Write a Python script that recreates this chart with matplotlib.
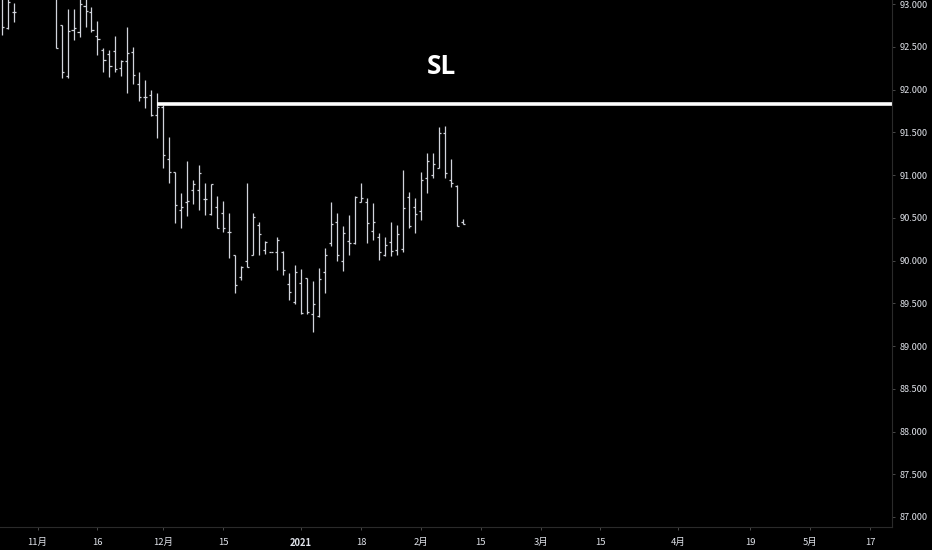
import numpy as np
import pandas as pd
import matplotlib
matplotlib.use('Agg')
import matplotlib.pyplot as plt

plt.rcParams['font.family'] = ['Noto Sans CJK SC', 'DejaVu Sans']

# trading calendar used for the time axis (one slot per weekday, no bar on Jan 1)
days = pd.bdate_range('2020-10-23', '2021-05-21')
days = days[days != pd.Timestamp('2021-01-01')]

# daily OHLC, first bar 2020-10-23
# (bars 3..8 lie completely above the visible price range)
opens = [93.10, 92.72, 92.91, np.nan, np.nan, np.nan, np.nan, np.nan, np.nan,
         93.10, 92.75, 92.16, 92.70, 92.67, 92.98, 92.91, 92.63, 92.46, 92.42,
         92.45, 92.25, 92.33, 92.44, 92.07, 91.91, 91.94, 91.70, 91.79, 91.19,
         91.04, 90.59, 90.68, 90.82, 90.83, 90.72, 90.54, 90.62, 90.55, 90.33,
         90.06, 89.81, 89.99, 90.06, 90.41, 90.12, 90.10, 90.10, 90.10, 89.73,
         89.51, 89.74, 89.79, 89.37, 89.35, 89.86, 90.21, 90.45, 89.99, 90.23,
         90.21, 90.69, 90.68, 90.35, 90.28, 90.07, 90.22, 90.12, 90.14, 90.74,
         90.62, 90.58, 90.97, 91.00, 91.08, 91.49, 90.94, 90.87, 90.45]
highs = [93.10, 93.10, 93.01, np.nan, np.nan, np.nan, np.nan, np.nan, np.nan,
         93.10, 92.75, 92.94, 92.94, 93.10, 93.10, 92.97, 92.80, 92.49, 92.46,
         92.63, 92.35, 92.73, 92.50, 92.20, 92.11, 91.99, 91.96, 91.82, 91.44,
         91.04, 90.79, 91.16, 90.94, 91.12, 90.91, 90.89, 90.75, 90.70, 90.56,
         90.06, 89.93, 90.91, 90.55, 90.45, 90.23, 90.10, 90.27, 90.11, 89.85,
         89.95, 89.90, 89.80, 89.76, 89.91, 90.15, 90.68, 90.56, 90.40, 90.53,
         90.75, 90.91, 90.73, 90.67, 90.32, 90.28, 90.45, 90.42, 91.06, 90.80,
         90.73, 91.03, 91.26, 91.26, 91.56, 91.57, 91.19, 90.88, 90.49]
lows = [92.64, 92.71, 92.79, np.nan, np.nan, np.nan, np.nan, np.nan, np.nan,
        92.48, 92.13, 92.13, 92.58, 92.61, 92.73, 92.67, 92.40, 92.21, 92.15,
        92.20, 92.16, 91.96, 92.07, 91.86, 91.78, 91.69, 91.43, 91.08, 90.91,
        90.44, 90.38, 90.52, 90.66, 90.59, 90.53, 90.53, 90.38, 90.33, 90.03,
        89.62, 89.77, 89.92, 90.06, 90.07, 90.08, 90.10, 89.89, 89.83, 89.54,
        89.49, 89.38, 89.38, 89.16, 89.34, 89.62, 90.17, 89.99, 89.88, 90.06,
        90.19, 90.68, 90.20, 90.24, 90.01, 90.05, 90.05, 90.07, 90.10, 90.38,
        90.32, 90.47, 90.79, 90.96, 91.08, 90.96, 90.86, 90.40, 90.43]
closes = [92.73, 93.02, 92.91, np.nan, np.nan, np.nan, np.nan, np.nan, np.nan,
          92.49, 92.21, 92.69, 92.72, 93.00, 92.92, 92.70, 92.59, 92.35, 92.27,
          92.24, 92.33, 92.43, 92.17, 91.91, 91.91, 91.70, 91.79, 91.23, 91.04,
          90.65, 90.62, 90.70, 90.89, 91.02, 90.72, 90.89, 90.38, 90.38, 90.33,
          89.71, 89.92, 89.92, 90.51, 90.31, 90.22, 90.10, 90.24, 89.89, 89.63,
          89.87, 89.39, 89.40, 89.49, 89.78, 90.06, 90.43, 90.06, 90.32, 90.20,
          90.74, 90.73, 90.44, 90.45, 90.10, 90.18, 90.11, 90.31, 90.61, 90.40,
          90.54, 90.94, 91.16, 91.13, 91.49, 91.02, 90.91, 90.40, 90.43]

sl_price = 91.83
sl_start = '2020-11-30'

tick_dates = ['2020-11-02', '2020-11-16', '2020-12-01', '2020-12-15', '2021-01-04',
              '2021-01-18', '2021-02-01', '2021-02-15', '2021-03-01', '2021-03-15',
              '2021-04-01', '2021-04-19', '2021-05-03', '2021-05-17']
tick_labels = ['11月', '16', '12月', '15', '2021', '18', '2月', '15', '3月', '15',
               '4月', '19', '5月', '17']
price_ticks = np.arange(87.0, 93.01, 0.5)

bar_color = '#d1d4dc'
text_color = '#e0e3ea'
line_color = '#2a2a2a'

fig = plt.figure(figsize=(9.32, 5.5), dpi=100, facecolor='black')
ax = fig.add_axes([0, 23 / 550, 892 / 932, 527 / 550])
ax.set_facecolor('black')

o = np.array(opens)
h = np.array(highs)
l = np.array(lows)
c = np.array(closes)
idx = np.arange(len(o))
ok = ~np.isnan(o)

w = 0.34
ax.vlines(idx[ok], l[ok], h[ok], color=bar_color, linewidth=0.9)
ax.hlines(o[ok], idx[ok] - w, idx[ok], color=bar_color, linewidth=0.9)
ax.hlines(c[ok], idx[ok], idx[ok] + w, color=bar_color, linewidth=0.9)

pos = {d: i for i, d in enumerate(days)}
x_right = 148.68
ax.hlines(sl_price, pos[pd.Timestamp(sl_start)], x_right, color='white', linewidth=2.6)
ax.text(441 / 892, 1 - 66 / 527, 'SL', transform=ax.transAxes, ha='center', va='center',
        color='white', fontsize=19, fontweight='bold', family=['Open Sans', 'DejaVu Sans'])

ax.set_xlim(-0.28, x_right)
ax.set_ylim(86.883, 93.047)

ax.set_xticks([pos[pd.Timestamp(d)] for d in tick_dates])
ax.set_xticklabels(tick_labels)
ax.yaxis.tick_right()
ax.set_yticks(price_ticks)
ax.set_yticklabels(['%.3f' % p for p in price_ticks])
for t in ax.get_xticklabels():
    if t.get_text() == '2021':
        t.set_fontweight('bold')

ax.tick_params(axis='x', colors=text_color, labelsize=6.8, length=2, width=0.6, pad=6)
ax.tick_params(axis='y', colors=text_color, labelsize=6.6, length=2.5, width=0.6, pad=3)
ax.tick_params(axis='both', color='#555555')

for side in ['top', 'left']:
    ax.spines[side].set_visible(False)
for side in ['right', 'bottom']:
    ax.spines[side].set_color(line_color)
    ax.spines[side].set_linewidth(0.8)

fig.savefig('out.png', dpi=100, facecolor='black')
